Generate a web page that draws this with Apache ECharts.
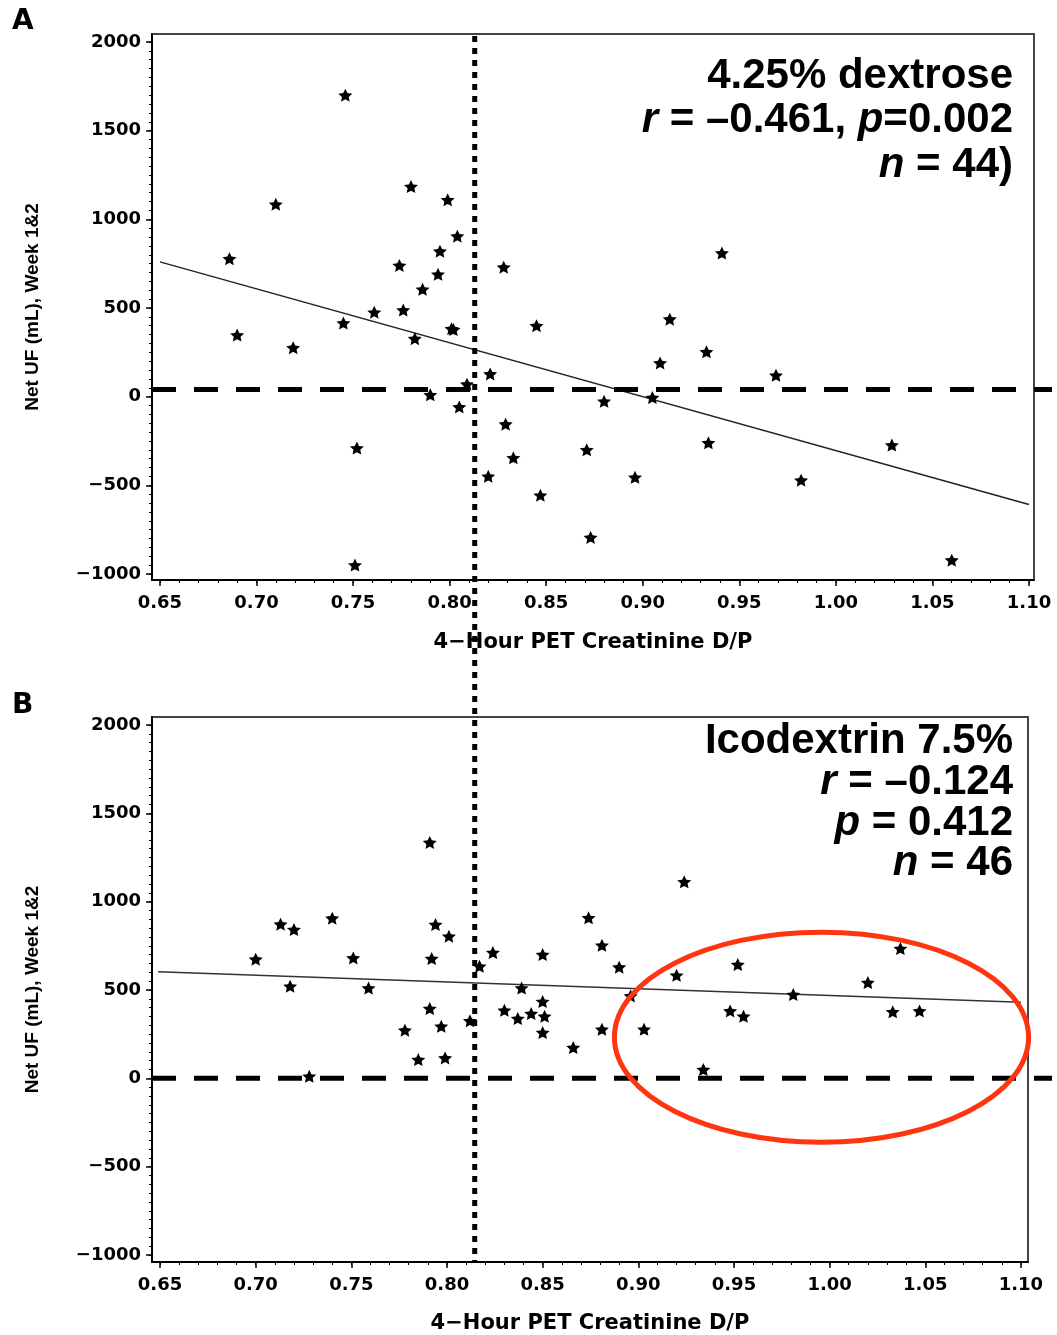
<!DOCTYPE html>
<html><head><meta charset="utf-8">
<script src="https://cdn.jsdelivr.net/npm/echarts@6/dist/echarts.min.js"></script>
<style>html,body{margin:0;padding:0;background:#fff}#c{width:1057px;height:1335px}</style>
</head><body><div id="c"></div><script>
// ---- tick labels ----
const xTickLabels = [0.65, 0.70, 0.75, 0.80, 0.85, 0.90, 0.95, 1.00, 1.05, 1.10];
const yTickLabels = [-1000, -500, 0, 500, 1000, 1500, 2000];

// ---- Panel A: 4.25% dextrose ----
const dextroseX = [0.746,0.710,0.780,0.799,0.804,0.686,0.795,0.774,0.828,0.794,0.786,0.761,0.776,0.745,0.845,0.801,0.690,0.782,0.719,0.821,0.809,0.790,0.805,0.880,0.829,0.752,0.871,0.833,0.820,0.847,0.873,0.751,0.941,0.914,0.933,0.909,0.969,0.905,0.934,1.029,0.896,0.982,1.060,0.802];
const dextroseY = [1700,1085,1185,1110,905,778,820,740,730,690,605,476,488,415,400,383,347,327,276,128,70,10,-58,-26,-155,-290,-300,-345,-449,-556,-794,-950,810,437,253,190,120,-5,-260,-273,-455,-471,-922,378];
const dextroseFitX = [0.65, 1.10];
const dextroseFitY = [760, -608];

// ---- Panel B: Icodextrin 7.5% ----
const icodextrinX = [0.791,0.713,0.720,0.740,0.794,0.801,0.700,0.751,0.792,0.824,0.817,0.850,0.874,0.718,0.759,0.839,0.850,0.791,0.830,0.837,0.844,0.851,0.797,0.812,0.778,0.850,0.866,0.785,0.799,0.728,0.924,0.881,0.890,0.920,0.952,1.037,1.020,0.981,0.896,0.948,0.955,1.033,1.047,0.881,0.903,0.934];
const icodextrinY = [1335,872,842,906,870,804,674,681,678,712,634,700,908,521,511,511,434,395,385,338,366,351,294,325,272,259,174,106,115,11,1112,753,629,583,644,734,542,474,466,381,351,376,381,277,277,49];
const icodextrinFitX = [0.649, 1.10];
const icodextrinFitY = [603, 430];

// ---- reference lines / highlight ----
const cutoffDP = 0.813;
const refLineA = 40;
const refLineB = 0;
const ellipseX = [0.8875, 1.104];
const ellipseY = [-362, 827];

// minor tick positions (axis decoration)
const xMinor = []; for (let i = 65; i <= 110; i++) xMinor.push(i / 100);
const yMinor = []; for (let v = -1000; v <= 2000; v += 50) yMinor.push(v);

const STAR = 'path://M50,0 L64.11,30.58 L97.55,34.55 L72.83,57.42 L79.39,90.45 L50,74 L20.61,90.45 L27.17,57.42 L2.45,34.55 L35.89,30.58 Z';
const LBL = {color:'#000', fontFamily:'DejaVu Sans', fontWeight:'bold', fontSize:18};

function majorX(g, min, max, gap) {
  return {
    gridIndex:g, type:'value', min:min, max:max, position:'bottom',
    axisLine:{show:true, onZero:false, lineStyle:{color:'#000', width:2}},
    axisTick:{show:true, customValues:xTickLabels, length:6, inside:false, lineStyle:{color:'#000', width:1.5}},
    axisLabel:Object.assign({show:true, customValues:xTickLabels, margin:14, formatter:v=>v.toFixed(2)}, LBL),
    splitLine:{show:false},
    name:'4\u2212Hour PET Creatinine D/P', nameLocation:'middle', nameGap:gap,
    nameTextStyle:{color:'#000', fontFamily:'DejaVu Sans', fontWeight:'bold', fontSize:21}
  };
}
function minorX(g, min, max) {
  return {gridIndex:g, type:'value', min:min, max:max, position:'bottom',
    axisLine:{show:false, onZero:false}, axisLabel:{show:false}, splitLine:{show:false},
    axisTick:{show:true, customValues:xMinor, length:3, lineStyle:{color:'#000', width:1}}};
}
function majorY(g, min, max, gap) {
  return {
    gridIndex:g, type:'value', min:min, max:max, position:'left',
    axisLine:{show:true, onZero:false, lineStyle:{color:'#000', width:2}},
    axisTick:{show:true, customValues:yTickLabels, length:6, lineStyle:{color:'#000', width:1.5}},
    axisLabel:Object.assign({show:true, customValues:yTickLabels, margin:11,
      formatter:v=> v<0 ? '\u2212'+Math.abs(v) : String(v)}, LBL),
    splitLine:{show:false},
    name:'Net UF (mL), Week 1&2', nameLocation:'middle', nameGap:gap, nameRotate:90,
    nameTextStyle:{color:'#000', fontFamily:'Liberation Sans', fontWeight:'bold', fontSize:19}
  };
}
function minorY(g, min, max) {
  return {gridIndex:g, type:'value', min:min, max:max, position:'left',
    axisLine:{show:false, onZero:false}, axisLabel:{show:false}, splitLine:{show:false},
    axisTick:{show:true, customValues:yMinor, length:3, lineStyle:{color:'#000', width:1}}};
}

const chart = echarts.init(document.getElementById('c'), null, {renderer:'canvas'});
const pairs = (xs, ys) => xs.map((x,i)=>[x, ys[i]]);

chart.setOption({
  animation:false,
  backgroundColor:'#fff',
  grid:[
    {left:152, top:34, width:882, height:546, show:true, borderColor:'#444', borderWidth:2, backgroundColor:'transparent', containLabel:false},
    {left:152, top:717, width:876, height:545, show:true, borderColor:'#444', borderWidth:2, backgroundColor:'transparent', containLabel:false}
  ],
  xAxis:[ majorX(0,0.6459,1.1026,52), minorX(0,0.6459,1.1026), majorX(1,0.6458,1.1037,51), minorX(1,0.6458,1.1037) ],
  yAxis:[ majorY(0,-1034,2045,110), minorY(0,-1034,2045), majorY(1,-1040,2045,110), minorY(1,-1040,2045) ],
  series:[
    {type:'scatter', xAxisIndex:0, yAxisIndex:0, data:pairs(dextroseX,dextroseY), symbol:STAR, symbolSize:[14,13], itemStyle:{color:'#000', opacity:1}, z:3},
    {type:'line', xAxisIndex:0, yAxisIndex:0, data:pairs(dextroseFitX,dextroseFitY), symbol:'none', lineStyle:{color:'#222', width:1.5}, z:2},
    {type:'scatter', xAxisIndex:2, yAxisIndex:2, data:pairs(icodextrinX,icodextrinY), symbol:STAR, symbolSize:[14,13], itemStyle:{color:'#000', opacity:1}, z:3},
    {type:'line', xAxisIndex:2, yAxisIndex:2, data:pairs(icodextrinFitX,icodextrinFitY), symbol:'none', lineStyle:{color:'#333', width:1.5}, z:2}
  ]
});

const pA = (x,y)=>chart.convertToPixel({xAxisIndex:0, yAxisIndex:0},[x,y]);
const pB = (x,y)=>chart.convertToPixel({xAxisIndex:2, yAxisIndex:2},[x,y]);

const dashA = pA(0.6459, refLineA);
const dashB = pB(0.6458, refLineB);
const dotTop = pA(cutoffDP, 2045);
const dotBot = pB(cutoffDP, -1040);
const e1 = pB(ellipseX[0], ellipseY[1]);
const e2 = pB(ellipseX[1], ellipseY[0]);

const F = {fontFamily:'Liberation Sans', fontWeight:'bold', fontSize:42, fill:'#000'};
const rich = {b:Object.assign({},F), i:Object.assign({fontStyle:'italic'},F)};
function txt(x, y, t) {
  return {type:'text', z:120, style:{x:x, y:y, text:t, align:'right', verticalAlign:'middle', rich:rich, font:'bold 42px "Liberation Sans"', fill:'#000'}};
}

chart.setOption({
  graphic:[
    {type:'line', z:100, shape:{x1:dashA[0], y1:dashA[1], x2:1052, y2:dashA[1]}, style:{stroke:'#000', lineWidth:5, lineDash:[24,18]}},
    {type:'line', z:100, shape:{x1:dashB[0], y1:dashB[1], x2:1052, y2:dashB[1]}, style:{stroke:'#000', lineWidth:5, lineDash:[24,18]}},
    {type:'line', z:101, shape:{x1:dotTop[0], y1:dotTop[1]+2, x2:dotTop[0], y2:dotBot[1]}, style:{stroke:'#000', lineWidth:5, lineDash:[6,6]}},
    {type:'ellipse', z:110, shape:{cx:(e1[0]+e2[0])/2, cy:(e1[1]+e2[1])/2, rx:Math.abs(e2[0]-e1[0])/2, ry:Math.abs(e2[1]-e1[1])/2}, style:{fill:'none', stroke:'#ff3510', lineWidth:5}},
    txt(1013, 76, '{b|4.25% dextrose}'),
    txt(1013, 120, '{i|r}{b| = \u20130.461, }{i|p}{b|=0.002}'),
    txt(1013, 165, '{i|n}{b| = 44)}'),
    txt(1013, 741, '{b|Icodextrin 7.5%}'),
    txt(1013, 782, '{i|r}{b| = \u20130.124}'),
    txt(1013, 823, '{i|p}{b| = 0.412}'),
    txt(1013, 863, '{i|n}{b| = 46}'),
    {type:'text', z:120, style:{x:12, y:8, text:'A', font:'bold 28px "DejaVu Sans"', fill:'#000'}},
    {type:'text', z:120, style:{x:12, y:692, text:'B', font:'bold 28px "DejaVu Sans"', fill:'#000'}}
  ]
});
</script></body></html>
